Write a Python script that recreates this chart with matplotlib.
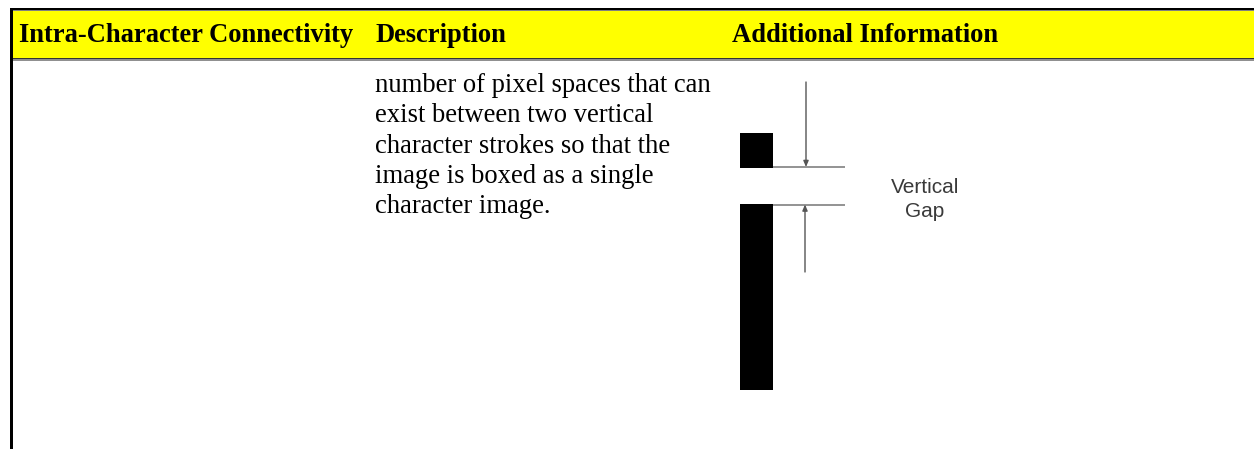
import matplotlib
matplotlib.use("Agg")
import matplotlib.pyplot as plt
from matplotlib.patches import Rectangle

# ---- content ----
headers = ["Intra-Character Connectivity", "Description", "Additional Information"]
header_x = [19, 376, 732]
description_lines = [
    "number of pixel spaces that can",
    "exist between two vertical",
    "character strokes so that the",
    "image is boxed as a single",
    "character image.",
]
figure_label = ["Vertical", "Gap"]

W, H = 1254, 449
fig = plt.figure(figsize=(W / 100, H / 100), dpi=100)
ax = fig.add_axes([0, 0, 1, 1])
ax.set_xlim(0, W)
ax.set_ylim(H, 0)
ax.axis("off")

# ---- table frame ----
ax.add_patch(Rectangle((13, 10.5), W - 13, 47, facecolor="#FFFF00", edgecolor="none"))
ax.add_patch(Rectangle((10, 7.5), W - 10, 2.5, facecolor="black", edgecolor="none"))
ax.add_patch(Rectangle((10, 10), W - 10, 1, facecolor="#808080", edgecolor="none"))
ax.add_patch(Rectangle((13, 57.5), W - 13, 1.5, facecolor="#333333", edgecolor="none"))
ax.add_patch(Rectangle((10, 59), W - 10, 1.5, facecolor="#909090", edgecolor="none"))
ax.add_patch(Rectangle((10, 7.5), 2.5, H - 7.5, facecolor="black", edgecolor="none"))

# ---- header text ----
for txt, x in zip(headers, header_x):
    ax.text(x, 41.5, txt, fontfamily="Liberation Serif", fontweight="bold",
            fontsize=19.1, color="black", va="baseline", ha="left")

# ---- description ----
base = 92
for i, line in enumerate(description_lines):
    ax.text(375, base + i * 30.3, line, fontfamily="Liberation Serif",
            fontsize=19.2, color="black", va="baseline", ha="left")

# ---- illustration ----
ax.add_patch(Rectangle((740, 133), 33, 35, facecolor="black", edgecolor="none"))
ax.add_patch(Rectangle((740, 203.5), 33, 186, facecolor="black", edgecolor="none"))
gray = "#8a8a8a"
ax.plot([773, 845], [167, 167], color=gray, lw=1.3, solid_capstyle="butt")
ax.plot([773, 845], [204.5, 204.5], color=gray, lw=1.3, solid_capstyle="butt")
ax.annotate("", xy=(806, 167), xytext=(806, 82),
            arrowprops=dict(arrowstyle="-|>,head_length=0.35,head_width=0.15",
                            color="#555555", lw=1.0, shrinkA=0, shrinkB=0))
ax.annotate("", xy=(805, 204.5), xytext=(805, 272),
            arrowprops=dict(arrowstyle="-|>,head_length=0.35,head_width=0.15",
                            color="#555555", lw=1.0, shrinkA=0, shrinkB=0))
ax.text(925, 193, figure_label[0], fontfamily="Liberation Sans", fontsize=15,
        color="#3a3a3a", ha="center", va="baseline")
ax.text(925, 217, figure_label[1], fontfamily="Liberation Sans", fontsize=15,
        color="#3a3a3a", ha="center", va="baseline")

fig.savefig("out.png", dpi=100, facecolor="white")
